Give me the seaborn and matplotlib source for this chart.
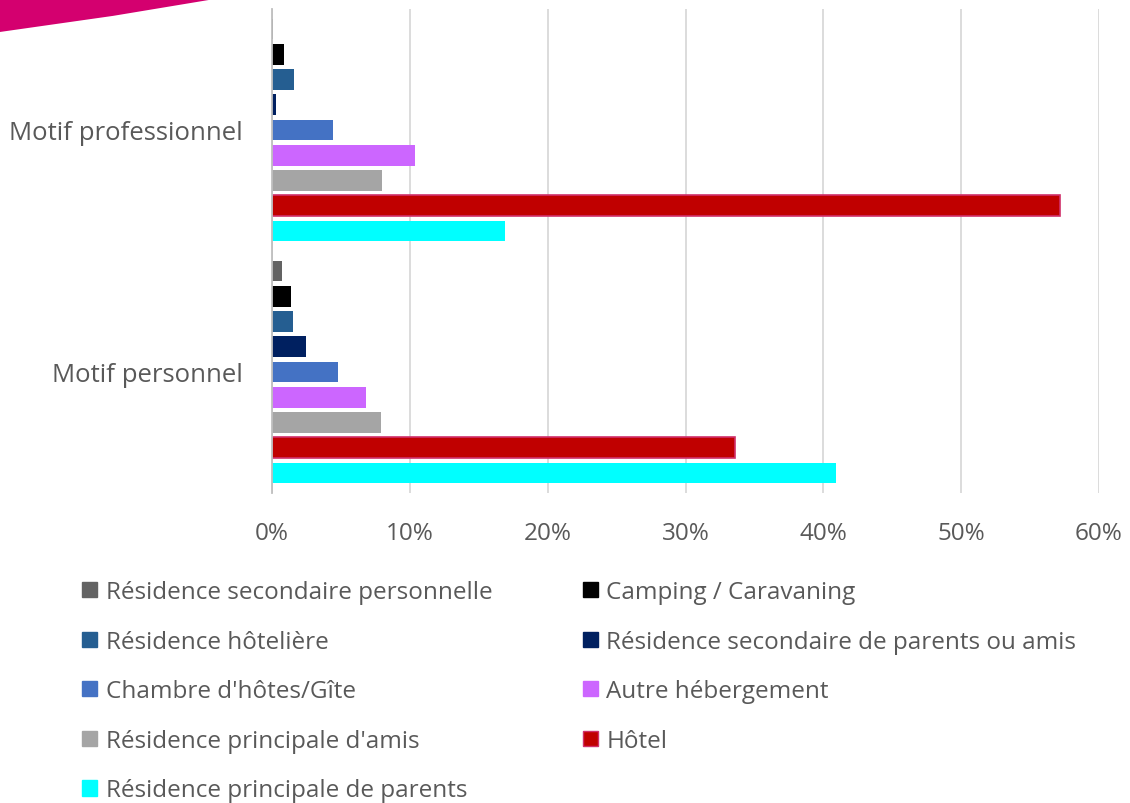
import pandas as pd
import matplotlib.pyplot as plt
import matplotlib.patches as mpatches
from matplotlib.ticker import PercentFormatter
import seaborn as sns

# Data
motifs = ["Motif professionnel", "Motif personnel"]
hebergements = [
    "Résidence secondaire personnelle",
    "Camping / Caravaning",
    "Résidence hôtelière",
    "Résidence secondaire de parents ou amis",
    "Chambre d'hôtes/Gîte",
    "Autre hébergement",
    "Résidence principale d'amis",
    "Hôtel",
    "Résidence principale de parents",
]
pro_values = [0.1, 0.9, 1.6, 0.3, 4.4, 10.4, 8.0, 57.2, 16.9]
perso_values = [0.7, 1.4, 1.5, 2.5, 4.8, 6.8, 7.9, 33.6, 40.9]
couleurs = ["#636363", "#000000", "#255E91", "#002060", "#4472C4",
            "#CC66FF", "#A5A5A5", "#C00000", "#00FFFF"]

rows = []
for h, vp, vq in zip(hebergements, pro_values, perso_values):
    rows.append({"motif": motifs[0], "hebergement": h, "valeur": vp})
    rows.append({"motif": motifs[1], "hebergement": h, "valeur": vq})
df = pd.DataFrame(rows)

sns.set_theme(style="white")
plt.rcParams['font.family'] = ['Open Sans', 'DejaVu Sans']
text_col = "#595959"

fig = plt.figure(figsize=(11.3, 8.04), dpi=100)
ax = fig.add_axes([0.2407, 0.3856, 0.7319, 0.602])

sns.barplot(data=df, x="valeur", y="motif", hue="hebergement", order=motifs,
            hue_order=hebergements, palette=couleurs, orient="h", saturation=1,
            width=0.94, gap=0.18, legend=False, ax=ax, linewidth=0)

# Hôtel bars get a pinkish outline
for bar in ax.containers[7]:
    bar.set_edgecolor("#D0306A")
    bar.set_linewidth(1.2)

ax.set_xlim(0, 60)
ax.set_ylim(1.5, -0.5)
ax.set_xticks(range(0, 61, 10))
ax.xaxis.set_major_formatter(PercentFormatter(decimals=0))
ax.grid(axis="x", color="#D9D9D9", linewidth=1.3)
ax.set_axisbelow(True)
for s in ["top", "right", "bottom"]:
    ax.spines[s].set_visible(False)
ax.spines["left"].set_color("#BFBFBF")
ax.spines["left"].set_linewidth(1.3)
ax.set_xlabel("")
ax.set_ylabel("")
ax.tick_params(axis="x", length=0, pad=20, labelsize=17.5, labelcolor=text_col)
ax.tick_params(axis="y", length=0, pad=21, labelsize=18.5, labelcolor=text_col)

# Legend in two columns
handles = [mpatches.Patch(facecolor=c, edgecolor=("#D0306A" if h == "Hôtel" else c), label=h)
           for h, c in zip(hebergements, couleurs)]
leg_kw = dict(frameon=False, fontsize=17.5, labelcolor=text_col, handlelength=0.6,
              handleheight=0.6, handletextpad=0.35, labelspacing=1.05,
              borderaxespad=0, borderpad=0, loc="upper left")
leg1 = fig.legend(handles=handles[0::2], bbox_to_anchor=(0.073, 0.277), **leg_kw)
leg2 = fig.legend(handles=handles[1::2], bbox_to_anchor=(0.516, 0.277), **leg_kw)

# Decorative swoosh top-left
swoosh = mpatches.Polygon([(0, 1), (0.19, 1), (0.1, 0.979), (0, 0.959)],
                          closed=True, transform=fig.transFigure,
                          facecolor="#D4006F", edgecolor="none")
fig.patches.append(swoosh)

fig.savefig("out.png", dpi=100)
plt.close(fig)
